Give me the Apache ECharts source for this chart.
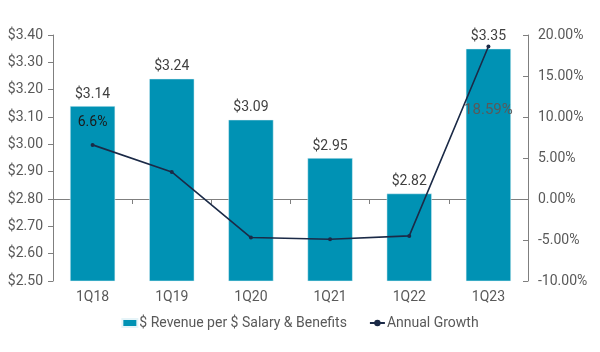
<!DOCTYPE html>
<html>
<head>
<meta charset="utf-8">
<script src="https://cdn.jsdelivr.net/npm/echarts@6/dist/echarts.min.js"></script>
<style>
  html, body { margin: 0; padding: 0; background: #fff; }
  #chart { width: 600px; height: 352px; }
</style>
</head>
<body>
<div id="chart"></div>
<script>
// data
var quarters = ['1Q18', '1Q19', '1Q20', '1Q21', '1Q22', '1Q23'];
var revenuePerSalary = [3.14, 3.24, 3.09, 2.95, 2.82, 3.35];
var annualGrowth = [6.6, 3.3, -4.7, -4.9, -4.5, 18.59];
var growthLabels = ['6.6%', '', '', '', '', '18.59%'];

var myChart = echarts.init(document.getElementById('chart'));

var lineData = annualGrowth.map(function (v, i) {
    var item = { value: v };
    if (i == 0) {
        item.label = { show: true, position: 'top', distance: 13, color: '#1a1a1a', formatter: growthLabels[i] };
    } else if (i == annualGrowth.length - 1) {
        item.label = { show: true, position: 'bottom', offset: [0, 49], color: '#595959', fontSize: 15, formatter: growthLabels[i] };
    }
    return item;
});

var option = {
    textStyle: { fontFamily: 'Roboto' },
    grid: { left: 53, right: 72, top: 35, bottom: 71 },
    legend: {
        bottom: 17,
        itemGap: 22,
        itemWidth: 15,
        itemHeight: 8,
        textStyle: { color: '#595959', fontSize: 14, padding: [0, 0, 0, -3] },
        data: [
            { name: '$ Revenue per $ Salary & Benefits', icon: 'rect' },
            { name: 'Annual Growth' }
        ]
    },
    xAxis: {
        type: 'category',
        data: quarters,
        axisLine: { lineStyle: { color: '#7f7f7f' } },
        axisTick: { show: true, lineStyle: { color: '#7f7f7f' } },
        axisLabel: { color: '#595959', fontSize: 14, margin: 9 }
    },
    yAxis: [
        {
            type: 'value',
            min: 2.5,
            max: 3.4,
            interval: 0.1,
            splitLine: { show: false },
            axisLine: { show: true, lineStyle: { color: '#7f7f7f' } },
            axisTick: { show: true, lineStyle: { color: '#7f7f7f' } },
            axisLabel: {
                color: '#595959', fontSize: 14, margin: 10,
                formatter: function (v) { return '$' + v.toFixed(2); }
            }
        },
        {
            type: 'value',
            min: -10,
            max: 20,
            interval: 5,
            splitLine: { show: false },
            axisLine: { show: true, lineStyle: { color: '#7f7f7f' } },
            axisTick: { show: true, inside: true, lineStyle: { color: '#7f7f7f' } },
            axisLabel: {
                color: '#595959', fontSize: 14, margin: 10,
                formatter: function (v) { return v.toFixed(2) + '%'; }
            }
        }
    ],
    series: [
        {
            name: '$ Revenue per $ Salary & Benefits',
            type: 'bar',
            data: revenuePerSalary,
            barWidth: '57%',
            itemStyle: { color: '#0092b4', borderColor: '#e6f4f8', borderWidth: 0.5 },
            label: {
                show: true,
                position: 'top',
                distance: 5,
                color: '#404040',
                fontSize: 14,
                formatter: function (p) { return '$' + p.value.toFixed(2); }
            }
        },
        {
            name: 'Annual Growth',
            type: 'line',
            yAxisIndex: 1,
            data: lineData,
            symbol: 'circle',
            symbolSize: 4,
            lineStyle: { color: '#1b2a47', width: 1.6 },
            itemStyle: { color: '#1b2a47' },
            label: { show: false, fontSize: 14 },
            z: 5
        }
    ]
};

myChart.setOption(option);
</script>
</body>
</html>
